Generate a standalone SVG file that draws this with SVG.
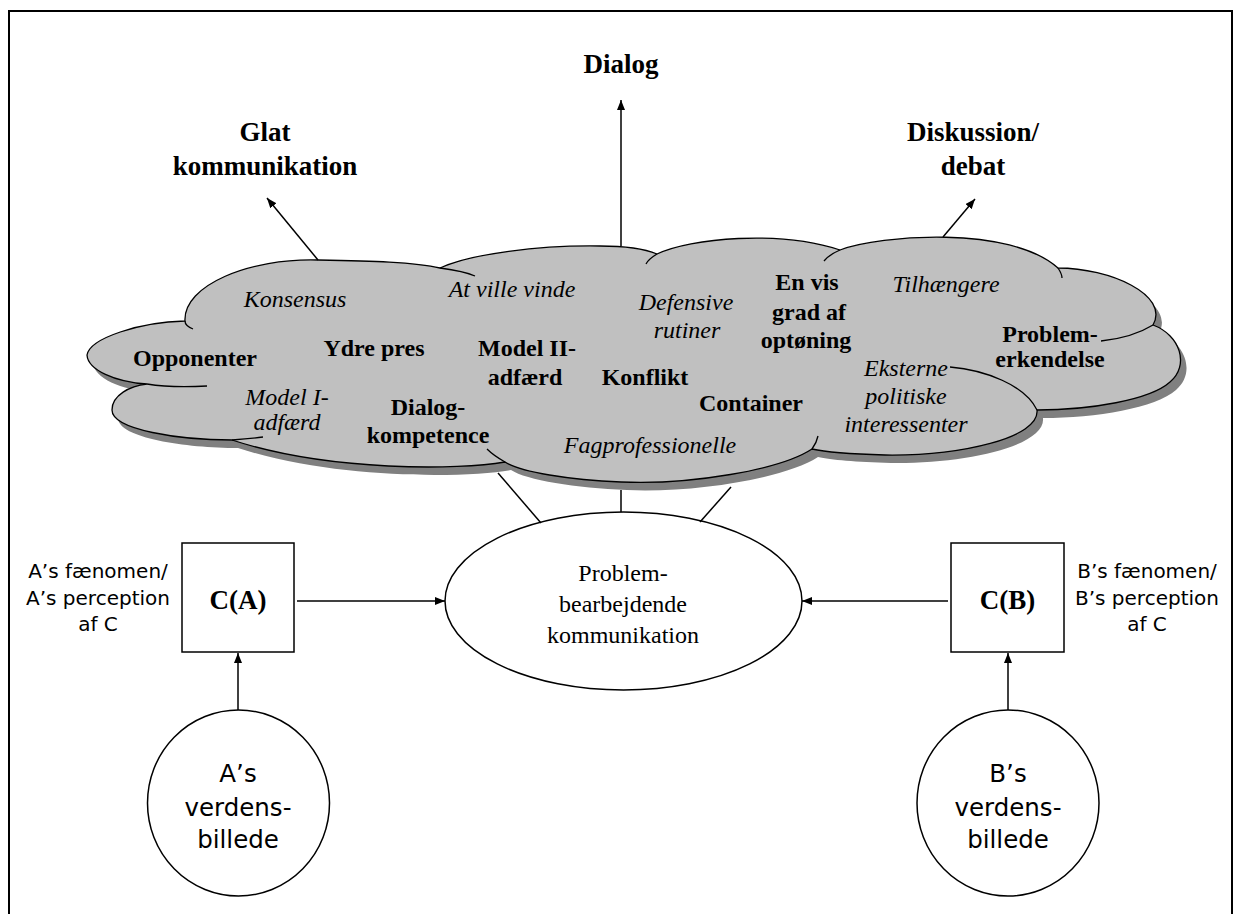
<svg xmlns="http://www.w3.org/2000/svg" xmlns:xlink="http://www.w3.org/1999/xlink" width="1241" height="914" viewBox="0 0 1241 914">
<style>
.serif{font-family:"Liberation Serif","Times New Roman",serif;font-size:24px;fill:#000;text-anchor:middle}
.b{font-weight:bold}
.i{font-style:italic}
.head{font-family:"Liberation Serif","Times New Roman",serif;font-size:27px;font-weight:bold;text-anchor:middle;fill:#000}
.sans{font-family:"DejaVu Sans","Liberation Sans",sans-serif;font-size:20px;text-anchor:middle;fill:#000}
.csans{font-family:"DejaVu Sans","Liberation Sans",sans-serif;font-size:24.5px;text-anchor:middle;fill:#000}
.node{fill:#fff;stroke:#000;stroke-width:1.5}
.conn{stroke:#000;stroke-width:1.5;fill:none}
.tail{stroke:#000;stroke-width:1.3;fill:none}
</style>
<defs>
<marker id="arr" markerUnits="userSpaceOnUse" markerWidth="11" markerHeight="9" refX="10" refY="4" orient="auto">
<path d="M0,0 L10,4 L0,8 Z" fill="#000"/>
</marker>
<path id="cloudShape" d="M87,355 C90,338 140,322 185,321 C183,285 250,258 318,260 C370,261 415,262 440,268 C470,254 540,245 600,246 C625,246 645,249 657,254 C690,238 780,230 840,250 C880,235 1010,225 1058,268 C1110,268 1170,295 1153,325 C1180,335 1190,365 1170,382 C1150,400 1090,410 1037,410 C1040,438 960,456 885,455 C850,454 825,452 812,449 C780,470 690,485 621,482 C570,480 520,472 505,462 C460,470 330,472 232,440 C180,440 112,430 112,410 C112,395 130,386 147,384 C115,382 88,370 87,355 Z"/>
</defs>
<rect width="1241" height="914" fill="#fff"/>
<path d="M9,920 V11 H1232 V920" fill="none" stroke="#000" stroke-width="2"/>

<g id="cloud">
<use xlink:href="#cloudShape" transform="translate(6,8)" fill="#808080"/>
<use xlink:href="#cloudShape" fill="#c0c0c0" stroke="#000" stroke-width="1.3"/>
<path class="tail" d="M185,321 C185,324 188,327 193,329 M147,384 C165,387 190,387 207,386 M440,268 C455,270 466,272 475,276 M657,254 C652,257 648,260 646,264 M840,250 C833,253 828,256 824,261 M1058,268 C1060,271 1062,274 1062,278 M1153,325 C1140,333 1120,339 1101,341 M950,367 C985,370 1025,385 1037,410 M812,449 C815,445 817,441 818,436 M505,462 C498,458 492,454 487,449 M232,440 C245,439 255,438 263,437"/>
<text class="serif i" x="295" y="307">Konsensus</text>
<text class="serif i" x="512" y="297">At ville vinde</text>
<text class="serif i" x="686" y="310">Defensive</text>
<text class="serif i" x="687" y="338">rutiner</text>
<text class="serif b" x="807" y="290">En vis</text>
<text class="serif b" x="809" y="320">grad af</text>
<text class="serif b" x="806" y="348">optøning</text>
<text class="serif i" x="946" y="292">Tilhængere</text>
<text class="serif b" x="195" y="366">Opponenter</text>
<text class="serif b" x="374" y="356">Ydre pres</text>
<text class="serif i" x="287" y="405">Model I-</text>
<text class="serif i" x="287" y="430">adfærd</text>
<text class="serif b" x="527" y="356">Model II-</text>
<text class="serif b" x="525" y="385">adfærd</text>
<text class="serif b" x="645" y="385">Konflikt</text>
<text class="serif b" x="428" y="415">Dialog-</text>
<text class="serif b" x="428" y="443">kompetence</text>
<text class="serif b" x="751" y="411">Container</text>
<text class="serif i" x="650" y="453">Fagprofessionelle</text>
<text class="serif b" x="1050" y="342">Problem-</text>
<text class="serif b" x="1050" y="367">erkendelse</text>
<text class="serif i" x="906" y="376">Eksterne</text>
<text class="serif i" x="906" y="404">politiske</text>
<text class="serif i" x="906" y="432">interessenter</text>
</g>

<g id="label-dialog"><text class="head" x="621" y="73">Dialog</text></g>
<g id="label-glat"><text class="head" x="265" y="141">Glat</text><text class="head" x="265" y="175">kommunikation</text></g>
<g id="label-diskussion"><text class="head" x="973" y="141">Diskussion/</text><text class="head" x="973" y="175">debat</text></g>

<g id="problem">
<ellipse class="node" cx="623.5" cy="601" rx="178.5" ry="89" stroke-width="1.2"/>
<text class="serif" x="623" y="581">Problem-</text>
<text class="serif" x="623" y="612">bearbejdende</text>
<text class="serif" x="623" y="643">kommunikation</text>
</g>

<g id="CA">
<rect class="node" x="182" y="543" width="112" height="109"/>
<text class="head" x="238" y="609">C(A)</text>
</g>
<g id="CB">
<rect class="node" x="951" y="543" width="113" height="109"/>
<text class="head" x="1007.5" y="609">C(B)</text>
</g>
<g id="labelA">
<text class="sans" x="98" y="578">A’s fænomen/</text>
<text class="sans" x="98" y="605">A’s perception</text>
<text class="sans" x="98" y="631">af C</text>
</g>
<g id="labelB">
<text class="sans" x="1147" y="578">B’s fænomen/</text>
<text class="sans" x="1147" y="605">B’s perception</text>
<text class="sans" x="1147" y="631">af C</text>
</g>
<g id="worldA">
<ellipse class="node" cx="238.5" cy="803" rx="91" ry="93" stroke-width="1.2"/>
<text class="csans" x="238" y="782">A’s</text>
<text class="csans" x="238" y="816">verdens-</text>
<text class="csans" x="238" y="848">billede</text>
</g>
<g id="worldB">
<ellipse class="node" cx="1008" cy="803" rx="91" ry="93" stroke-width="1.2"/>
<text class="csans" x="1008" y="782">B’s</text>
<text class="csans" x="1008" y="816">verdens-</text>
<text class="csans" x="1008" y="848">billede</text>
</g>

<g id="connectors">
<line class="conn" x1="621" y1="246" x2="621" y2="100" marker-end="url(#arr)"/>
<line class="conn" x1="318" y1="260" x2="267" y2="198" marker-end="url(#arr)"/>
<line class="conn" x1="943" y1="237" x2="975" y2="199" marker-end="url(#arr)"/>
<line class="conn" x1="498" y1="473" x2="541" y2="523"/>
<line class="conn" x1="621" y1="490" x2="621" y2="512"/>
<line class="conn" x1="731" y1="487" x2="700" y2="522"/>
<line class="conn" x1="297" y1="601" x2="445" y2="601" marker-end="url(#arr)"/>
<line class="conn" x1="948" y1="601" x2="802" y2="601" marker-end="url(#arr)"/>
<line class="conn" x1="238" y1="710" x2="238" y2="653" marker-end="url(#arr)"/>
<line class="conn" x1="1008" y1="710" x2="1008" y2="653" marker-end="url(#arr)"/>
</g>
</svg>
